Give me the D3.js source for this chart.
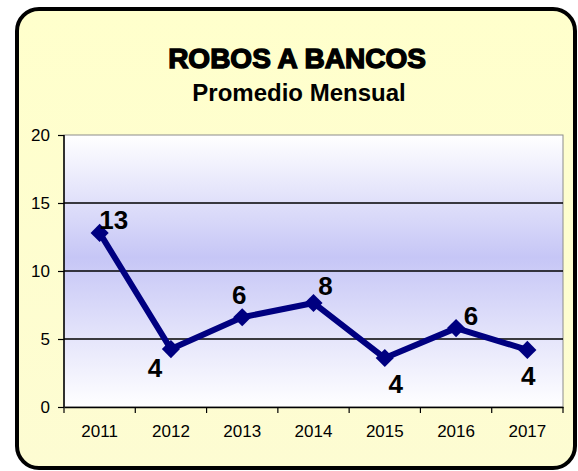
<!DOCTYPE html>
<html>
<head>
<meta charset="utf-8">
<script src="https://cdn.jsdelivr.net/npm/d3@7"></script>
<style>
  body { margin: 0; background: #ffffff; }
  svg { display: block; }
</style>
</head>
<body>
<div id="chart"></div>
<script>
// chart data
var years = ['2011', '2012', '2013', '2014', '2015', '2016', '2017'];
var robos = [12.8, 4.26, 6.6, 7.65, 3.6, 5.8, 4.2];
var labels = ['13', '4', '6', '8', '4', '6', '4'];
var yTicks = [0, 5, 10, 15, 20];

var W = 578, H = 471;
var margin = {left: 64, right: 15, top: 135, bottom: 64};
var FONT = '"Liberation Sans", Arial, sans-serif';

var svg = d3.select('#chart').append('svg')
    .attr('width', W)
    .attr('height', H);

var defs = svg.append('defs');

// yellow frame background
var gBg = defs.append('linearGradient').attr('id', 'bg')
    .attr('x1', 0).attr('y1', 0).attr('x2', 0).attr('y2', 1);
gBg.append('stop').attr('offset', '0%').attr('stop-color', '#ffffcc');
gBg.append('stop').attr('offset', '100%').attr('stop-color', '#fdfcd2');

// plot area: white -> lavender -> white
var gPlot = defs.append('linearGradient').attr('id', 'plotbg')
    .attr('x1', 0).attr('y1', 0).attr('x2', 0).attr('y2', 1);
gPlot.append('stop').attr('offset', '0%').attr('stop-color', '#ffffff');
gPlot.append('stop').attr('offset', '45%').attr('stop-color', '#c6c6f6');
gPlot.append('stop').attr('offset', '100%').attr('stop-color', '#ffffff');

svg.append('rect')
    .attr('x', 17).attr('y', 9)
    .attr('width', 558).attr('height', 459)
    .attr('rx', 22).attr('ry', 22)
    .attr('fill', 'url(#bg)')
    .attr('stroke', '#000')
    .attr('stroke-width', 4);

// titles
svg.append('text')
    .attr('x', 297).attr('y', 68)
    .attr('text-anchor', 'middle')
    .style('font-family', FONT)
    .style('font-weight', 'bold')
    .style('font-size', '28px')
    .attr('stroke', '#000').attr('stroke-width', 1.4)
    .text('ROBOS A BANCOS');

svg.append('text')
    .attr('x', 299).attr('y', 101)
    .attr('text-anchor', 'middle')
    .style('font-family', FONT)
    .style('font-weight', 'bold')
    .style('font-size', '24px')
    .text('Promedio Mensual');

var x = d3.scaleBand()
    .domain(years)
    .range([margin.left, W - margin.right]);

var y = d3.scaleLinear()
    .domain([0, 20])
    .range([H - margin.bottom, margin.top]);

// plot area
svg.append('rect')
    .attr('x', x.range()[0]).attr('y', y(20))
    .attr('width', x.range()[1] - x.range()[0])
    .attr('height', y(0) - y(20))
    .attr('fill', 'url(#plotbg)')
    .attr('stroke', '#8c8c8c')
    .attr('stroke-width', 1);

// gridlines
svg.append('g').selectAll('line')
    .data(yTicks.filter(function(d) { return d > 0 && d < 20; }))
    .enter().append('line')
    .attr('x1', x.range()[0]).attr('x2', x.range()[1])
    .attr('y1', function(d) { return y(d); })
    .attr('y2', function(d) { return y(d); })
    .attr('stroke', '#000')
    .attr('stroke-width', 1.3);

// y axis
var yAxis = svg.append('g')
    .attr('transform', 'translate(' + margin.left + ',0)')
    .call(d3.axisLeft(y).tickValues(yTicks).tickSize(6).tickPadding(8));
yAxis.selectAll('text')
    .style('font-family', FONT)
    .style('font-size', '17px')
    .attr('fill', '#000');
yAxis.selectAll('line').attr('stroke', '#000').attr('stroke-width', 1.2);
yAxis.select('.domain').attr('stroke', '#000').attr('stroke-width', 1.5).attr('d', 'M0,' + y(0) + 'V' + y(20));

// x axis
var xAxis = svg.append('g')
    .attr('transform', 'translate(0,' + y(0) + ')')
    .call(d3.axisBottom(x).tickSize(0).tickPadding(18));
xAxis.select('.domain').attr('stroke', '#000').attr('stroke-width', 1.5);
xAxis.selectAll('text')
    .style('font-family', FONT)
    .style('font-size', '17px')
    .attr('fill', '#000');
// tick marks between categories
xAxis.selectAll('.sep')
    .data(years.concat(['end']))
    .enter().append('line')
    .attr('class', 'sep')
    .attr('x1', function(d, i) { return x.range()[0] + i * x.step(); })
    .attr('x2', function(d, i) { return x.range()[0] + i * x.step(); })
    .attr('y1', 0).attr('y2', 6)
    .attr('stroke', '#000').attr('stroke-width', 1.2);

// line
var line = d3.line()
    .x(function(d, i) { return x(years[i]) + x.bandwidth() / 2; })
    .y(function(d) { return y(d); });

svg.append('path')
    .datum(robos)
    .attr('d', line)
    .attr('fill', 'none')
    .attr('stroke', '#000080')
    .attr('stroke-width', 6)
    .attr('stroke-linejoin', 'round');

svg.append('g').selectAll('path')
    .data(robos)
    .enter().append('path')
    .attr('d', d3.symbol().type(d3.symbolDiamond2).size(210))
    .attr('transform', function(d, i) {
        return 'translate(' + (x(years[i]) + x.bandwidth() / 2) + ',' + y(d) + ')';
    })
    .attr('fill', '#000080');

// data labels (offsets in px: centre x, baseline y)
var labelOffset = [[14, -4], [-16, 28], [-3, -13], [12, -8], [11, 35], [15, -3], [1, 35]];
svg.append('g').selectAll('text')
    .data(robos)
    .enter().append('text')
    .attr('x', function(d, i) { return x(years[i]) + x.bandwidth() / 2 + labelOffset[i][0]; })
    .attr('y', function(d, i) { return y(d) + labelOffset[i][1]; })
    .attr('text-anchor', 'middle')
    .style('font-family', FONT)
    .style('font-weight', 'bold')
    .style('font-size', '26px')
    .attr('fill', '#000')
    .text(function(d, i) { return labels[i]; });
</script>
</body>
</html>
